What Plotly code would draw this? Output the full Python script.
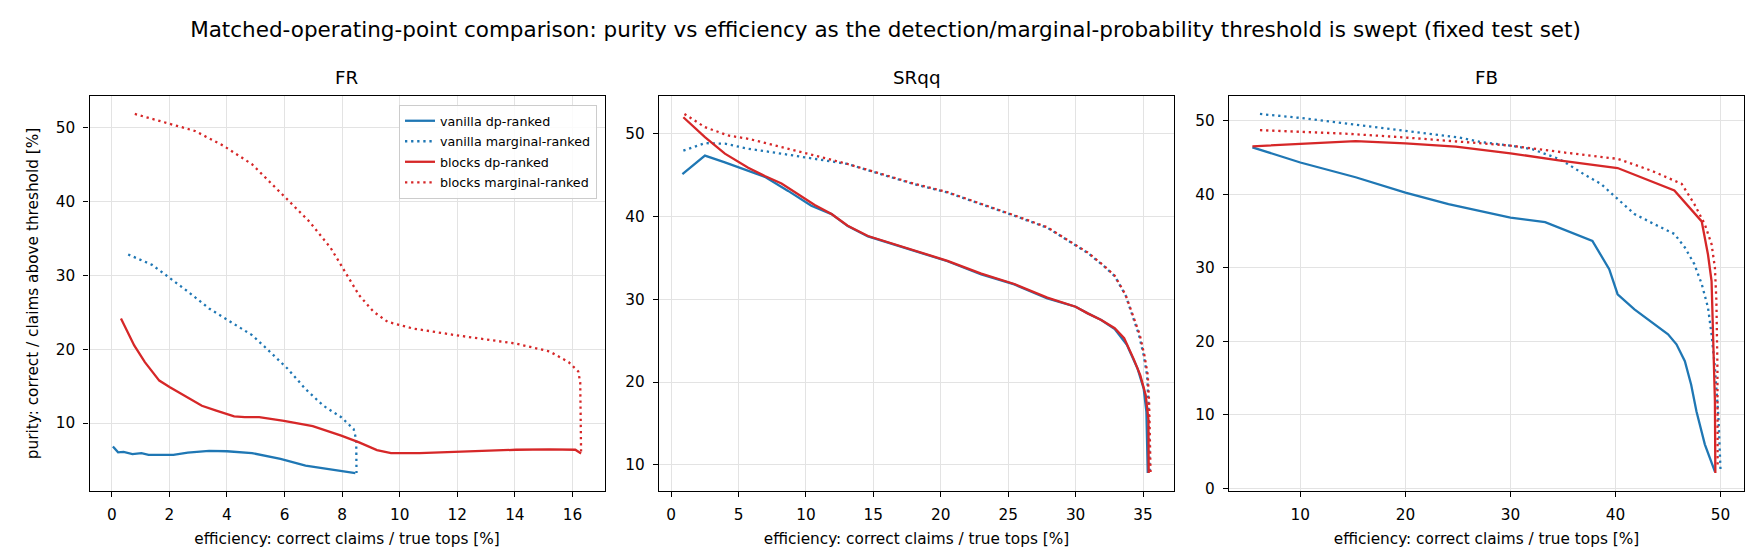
import plotly.graph_objects as go

# ---------------- data ----------------
# FR
fr_van_dp_x = [0.04, 0.22, 0.41, 0.72, 1.03, 1.28, 2.14, 2.64, 3.38, 4.0, 4.87, 5.86, 6.73, 7.6, 8.46]
fr_van_dp_y = [6.85, 6.05, 6.1, 5.8, 5.95, 5.7, 5.7, 6.0, 6.25, 6.2, 5.95, 5.15, 4.25, 3.7, 3.25]

fr_van_mg_x = [0.57, 1.4, 2.02, 2.64, 3.38, 4.13, 4.87, 5.37, 6.11, 6.73, 7.35, 7.97, 8.4, 8.49, 8.5, 8.5]
fr_van_mg_y = [32.8, 31.4, 29.6, 27.8, 25.5, 23.7, 21.9, 20.1, 17.35, 14.6, 12.35, 10.8, 9.2, 7.8, 5.0, 3.25]

fr_blk_dp_x = [0.32, 0.78, 1.15, 1.65, 2.02, 2.64, 3.13, 3.63, 4.25, 4.62, 5.12, 5.98, 6.98, 7.97, 8.59,
               9.21, 9.7, 10.69, 12.55, 14.04, 15.2, 16.1, 16.3]
fr_blk_dp_y = [24.15, 20.5, 18.25, 15.75, 14.85, 13.5, 12.35, 11.7, 10.9, 10.8, 10.8, 10.3, 9.6, 8.3, 7.4,
               6.35, 5.95, 5.95, 6.2, 6.4, 6.45, 6.4, 5.9]

fr_blk_mg_x = [0.8, 2.02, 2.89, 3.88, 4.87, 5.98, 6.85, 7.6, 8.09, 8.59, 9.08, 9.58, 10.45, 11.93, 14.04,
               15.2, 15.87, 16.2, 16.27, 16.29, 16.3]
fr_blk_mg_y = [51.8, 50.45, 49.5, 47.5, 45.0, 40.7, 37.3, 33.7, 30.5, 27.3, 25.1, 23.7, 22.8, 21.9, 20.75,
               19.7, 18.25, 17.0, 15.5, 10.0, 6.0]

# SRqq
sr_van_dp_x = [0.84, 2.51, 3.99, 5.72, 6.95, 8.68, 10.4, 11.9, 13.1, 14.6, 16.57, 18.05, 20.5, 23.0, 25.45,
               27.9, 30.0, 30.9, 31.9, 32.9, 33.8, 34.6, 35.05, 35.25, 35.3, 35.35]
sr_van_dp_y = [45.14, 47.37, 46.55, 45.5, 44.8, 43.1, 41.3, 40.3, 38.85, 37.6, 36.6, 35.8, 34.6, 33.0, 31.8,
               30.1, 29.1, 28.3, 27.5, 26.4, 24.5, 21.6, 19.2, 16.4, 13.5, 9.0]

sr_blk_dp_x = [0.91, 2.51, 3.99, 5.72, 6.95, 8.19, 9.42, 10.65, 11.9, 13.1, 14.6, 16.57, 18.05, 20.5, 23.0,
               25.45, 27.9, 30.0, 30.9, 31.9, 32.9, 33.6, 34.3, 34.8, 35.2, 35.4, 35.42]
sr_blk_dp_y = [52.0, 49.6, 47.6, 45.9, 44.9, 44.0, 42.7, 41.4, 40.3, 38.9, 37.65, 36.65, 35.85, 34.65, 33.1,
               31.85, 30.2, 29.1, 28.3, 27.5, 26.5, 25.3, 22.8, 20.8, 18.4, 15.5, 9.0]

sr_van_mg_x = [0.91, 2.51, 3.99, 5.72, 8.19, 10.65, 13.1, 15.6, 18.05, 20.5, 23.0, 25.45, 27.9, 29.5, 30.9,
               32.1, 32.9, 33.7, 34.2, 34.7, 35.05, 35.3, 35.4, 35.46, 35.5]
sr_van_mg_y = [47.97, 48.87, 48.8, 48.2, 47.6, 46.96, 46.35, 45.1, 43.9, 42.9, 41.5, 40.1, 38.65, 37.0, 35.6,
               34.0, 32.8, 30.5, 28.1, 25.7, 23.2, 20.8, 17.6, 13.5, 9.0]

sr_blk_mg_x = [0.99, 2.51, 4.24, 5.72, 8.19, 10.65, 13.1, 15.6, 18.05, 20.5, 23.0, 25.45, 27.9, 29.5, 30.9,
               32.1, 32.9, 33.7, 34.25, 34.75, 35.1, 35.35, 35.45, 35.52, 35.56]
sr_blk_mg_y = [52.4, 50.8, 49.8, 49.4, 48.4, 47.4, 46.35, 45.15, 43.95, 42.95, 41.55, 40.15, 38.7, 37.05, 35.65,
               34.05, 32.85, 30.55, 28.15, 25.75, 23.25, 20.85, 17.6, 13.5, 9.0]

# FB
fb_van_dp_x = [5.44, 10.0, 15.26, 20.0, 24.1, 27.0, 30.0, 33.3, 35.45, 37.8, 39.4, 40.2, 41.8, 43.7, 45.0,
               45.8, 46.6, 47.2, 47.7, 48.5, 49.46]
fb_van_dp_y = [46.37, 44.3, 42.3, 40.2, 38.65, 37.75, 36.8, 36.2, 35.0, 33.65, 29.8, 26.4, 24.35, 22.3, 20.95,
               19.6, 17.3, 14.1, 10.5, 6.0, 2.3]

fb_van_mg_x = [6.16, 10.0, 14.6, 20.0, 25.1, 27.3, 30.0, 32.1, 34.6, 35.45, 37.0, 38.6, 40.2, 41.8, 44.0,
               45.6, 46.6, 47.5, 48.2, 48.8, 49.14, 49.46, 49.8, 50.0]
fb_van_mg_y = [50.9, 50.36, 49.55, 48.6, 47.7, 47.05, 46.6, 46.1, 44.8, 44.1, 42.7, 41.4, 39.3, 37.3, 35.7,
               34.6, 32.75, 30.5, 27.8, 24.6, 20.95, 16.4, 9.6, 2.25]

fb_blk_dp_x = [5.44, 15.26, 20.0, 24.8, 30.0, 34.6, 40.2, 45.6, 48.2, 48.8, 49.14, 49.3, 49.46, 49.5]
fb_blk_dp_y = [46.5, 47.2, 46.9, 46.45, 45.55, 44.6, 43.55, 40.5, 36.3, 31.8, 28.2, 20.95, 11.9, 2.1]

fb_blk_mg_x = [6.16, 14.6, 20.0, 27.3, 30.0, 35.45, 40.2, 43.4, 46.3, 47.5, 48.5, 49.14, 49.46, 49.6, 49.7, 49.72]
fb_blk_mg_y = [48.7, 48.2, 47.7, 46.9, 46.6, 45.6, 44.8, 43.2, 41.4, 38.65, 35.9, 33.2, 30.0, 25.5, 16.4, 2.8]

panel_names = ["FR", "SRqq", "FB"]
series_names = ["vanilla dp-ranked", "vanilla marginal-ranked", "blocks dp-ranked", "blocks marginal-ranked"]
x_tick_steps = [2, 5, 10]

panels = [
    [(fr_van_dp_x, fr_van_dp_y), (fr_van_mg_x, fr_van_mg_y), (fr_blk_dp_x, fr_blk_dp_y), (fr_blk_mg_x, fr_blk_mg_y)],
    [(sr_van_dp_x, sr_van_dp_y), (sr_van_mg_x, sr_van_mg_y), (sr_blk_dp_x, sr_blk_dp_y), (sr_blk_mg_x, sr_blk_mg_y)],
    [(fb_van_dp_x, fb_van_dp_y), (fb_van_mg_x, fb_van_mg_y), (fb_blk_dp_x, fb_blk_dp_y), (fb_blk_mg_x, fb_blk_mg_y)],
]

# ---------------- styling ----------------
W, H = 1755, 559
BLUE = "#1f77b4"
RED = "#d62728"
FONT = "DejaVu Sans"
DOT = "2.3px,3.8px"
styles = [(BLUE, "solid"), (BLUE, DOT), (RED, "solid"), (RED, DOT)]

x_domains = [[81.5 / W, 596.5 / W], [651 / W, 1166 / W], [1221 / W, 1736 / W]]
y_domain = [1 - 483 / H, 1 - 88 / H]


def padded(vals):
    lo, hi = min(vals), max(vals)
    pad = 0.05 * (hi - lo)
    return [lo - pad, hi + pad]


fig = go.Figure()
for p, series in enumerate(panels):
    suffix = "" if p == 0 else str(p + 1)
    for s, (xs, ys) in enumerate(series):
        col, dash = styles[s]
        fig.add_trace(go.Scatter(
            x=xs, y=ys, mode="lines", name=series_names[s],
            legendgroup=series_names[s],
            line=dict(color=col, width=2.3, dash=dash),
            xaxis="x" + suffix, yaxis="y" + suffix,
            showlegend=(p == 0),
        ))

axis_common = dict(
    showline=True, linecolor="black", linewidth=1.2, mirror=True,
    ticks="outside", ticklen=5, tickwidth=1.2, tickcolor="black",
    ticklabelstandoff=5,
    showgrid=True, gridcolor="#e3e3e3", gridwidth=1.2,
    zeroline=False, automargin=False,
    tickfont=dict(family=FONT, size=15.3, color="black"),
)

layout = dict(
    width=W, height=H,
    margin=dict(l=0, r=0, t=0, b=0),
    paper_bgcolor="white", plot_bgcolor="white",
    font=dict(family=FONT, color="black"),
    title=dict(
        text="Matched-operating-point comparison: purity vs efficiency as the detection/marginal-probability threshold is swept (fixed test set)",
        x=0.5, xanchor="center", y=1 - 21 / H, yanchor="middle", yref="container",
        font=dict(family=FONT, size=21.5, color="black"),
    ),
    legend=dict(
        x=589 / W, xanchor="right", y=1 - 97 / H, yanchor="top",
        bgcolor="rgba(255,255,255,0.85)", bordercolor="#cccccc", borderwidth=1,
        font=dict(family=FONT, size=12.7, color="black"),
        tracegroupgap=1, itemwidth=30,
    ),
    annotations=[],
)

for p in range(3):
    suffix = "" if p == 0 else str(p + 1)
    all_x = [v for xs, _ in panels[p] for v in xs]
    all_y = [v for _, ys in panels[p] for v in ys]
    xa = dict(axis_common)
    xa.update(domain=x_domains[p], range=padded(all_x), dtick=x_tick_steps[p], tick0=0,
              anchor="y" + suffix,
              title=dict(text="efficiency: correct claims / true tops [%]", standoff=9,
                         font=dict(family=FONT, size=15.3, color="black")))
    ya = dict(axis_common)
    ya.update(domain=y_domain, range=padded(all_y), dtick=10, tick0=0, anchor="x" + suffix)
    if p == 0:
        ya.update(title=dict(text="purity: correct / claims above threshold [%]", standoff=13,
                             font=dict(family=FONT, size=15.3, color="black")))
    layout["xaxis" + suffix] = xa
    layout["yaxis" + suffix] = ya
    layout["annotations"].append(dict(
        text=panel_names[p], xref="paper", yref="paper",
        x=(x_domains[p][0] + x_domains[p][1]) / 2, y=1 - 70 / H,
        xanchor="center", yanchor="middle", showarrow=False,
        font=dict(family=FONT, size=18.3, color="black"),
    ))

fig.update_layout(**layout)
fig.write_html("out.html")
